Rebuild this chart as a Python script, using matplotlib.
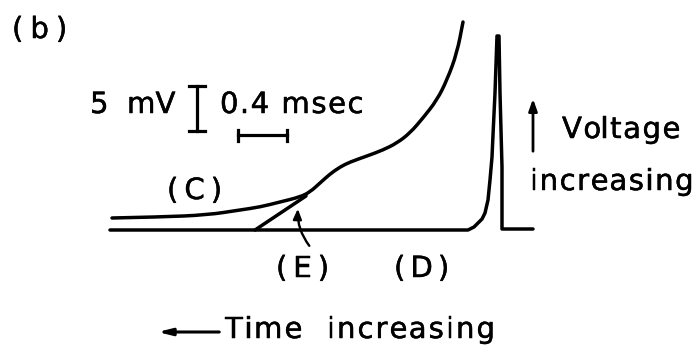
import matplotlib
matplotlib.use("Agg")
import matplotlib.pyplot as plt
import matplotlib.patheffects as pe
from matplotlib.path import Path
from matplotlib.patches import PathPatch

# Sketch traces, in picture units (x to the right, y downwards)
c_x = [112, 160, 207, 240, 260, 280, 300, 310, 320, 330, 340, 350, 367, 383, 397, 410, 423, 437, 447, 457, 463]
c_y = [218, 217, 215, 210, 207, 202, 197, 192, 183, 174, 167, 162, 156, 150, 143, 133, 118, 100, 80, 53, 22]

d_x = [110, 468, 474, 478, 482, 485, 488, 490, 492, 493, 495, 497, 499, 500, 502, 502, 533]
d_y = [230, 230, 227, 223, 219, 213, 200, 180, 157, 135, 93, 36, 36, 93, 167, 229, 229]

e_x = [255, 306]
e_y = [230, 196]

labels = ["(b)", "5  mV", "0.4 msec", "(C)", "(E)", "(D)", "Voltage", "increasing", "Time  increasing"]

W, H = 698, 347
fig = plt.figure(figsize=(W / 100, H / 100), dpi=100)
ax = fig.add_axes([0, 0, 1, 1])
ax.set_xlim(0, W)
ax.set_ylim(H, 0)
ax.axis("off")
renderer = fig.canvas.get_renderer()

fs = 21
font = dict(family="DejaVu Sans", color="black", fontsize=fs)
heavy = [pe.withStroke(linewidth=0.35, foreground="black")]

t0 = ax.text(0, 0, "|", **font)
bar_w = t0.get_window_extent(renderer).width
t0.remove()


def text_width(s):
    t = ax.text(0, 0, s + "|", **font)
    w = t.get_window_extent(renderer).width
    t.remove()
    return w - bar_w


def spaced_text(x, y, s, spacing, va="baseline"):
    # letter by letter, for the wide letterspacing of the original lettering
    for i, ch in enumerate(s):
        if ch == " ":
            continue
        ax.text(x + text_width(s[:i]) + i * spacing, y, ch, ha="left", va=va,
                path_effects=heavy, **font)


def smooth_line(xs, ys, **kw):
    # quadratic bezier through midpoints, so the hand-drawn trace has no corners
    pts = list(zip(xs, ys))
    verts = [pts[0]]
    codes = [Path.MOVETO]
    for i in range(1, len(pts) - 1):
        mid = ((pts[i][0] + pts[i + 1][0]) / 2, (pts[i][1] + pts[i + 1][1]) / 2)
        verts += [pts[i], mid]
        codes += [Path.CURVE3, Path.CURVE3]
    verts.append(pts[-1])
    codes.append(Path.LINETO)
    ax.add_patch(PathPatch(Path(verts, codes), fill=False, **kw))


lw = 2.5
smooth_line(c_x, c_y, edgecolor="black", lw=lw, capstyle="round", joinstyle="round")
ax.plot(d_x, d_y, color="black", lw=lw, solid_capstyle="round", solid_joinstyle="round")
ax.plot(e_x, e_y, color="black", lw=lw, solid_capstyle="round")

# scale bars
ax.plot([197, 197], [86, 131], color="black", lw=2.3)
ax.plot([189, 205], [86, 86], color="black", lw=2.3)
ax.plot([189, 205], [131, 131], color="black", lw=2.3)
ax.plot([238, 287], [135, 135], color="black", lw=2.3)
ax.plot([238, 238], [130, 141], color="black", lw=2.3)
ax.plot([287, 287], [130, 141], color="black", lw=2.3)

spaced_text(12, 38, labels[0], 7)
spaced_text(90, 113, labels[1], 0)
spaced_text(220, 113, labels[2], 1.5)
spaced_text(167, 199, labels[3], 6)
spaced_text(276, 277, labels[4], 6)
spaced_text(394, 277, labels[5], 5)
spaced_text(562, 138, labels[6], 1.5)
spaced_text(530, 190, labels[7], 1.5)
spaced_text(225, 338, labels[8], 2)

# arrows
ax.annotate("", xy=(298, 206), xytext=(311, 248),
            arrowprops=dict(arrowstyle="-|>,head_length=0.6,head_width=0.25", color="black",
                            lw=1.7, connectionstyle="arc3,rad=-0.2"))
ax.annotate("", xy=(533, 96), xytext=(533, 154),
            arrowprops=dict(arrowstyle="-|>,head_length=0.7,head_width=0.25", color="black", lw=2))
ax.annotate("", xy=(155, 332), xytext=(222, 332),
            arrowprops=dict(arrowstyle="-|>,head_length=0.8,head_width=0.2", color="black", lw=2.2))

fig.savefig("out.png", dpi=100, facecolor="white")
